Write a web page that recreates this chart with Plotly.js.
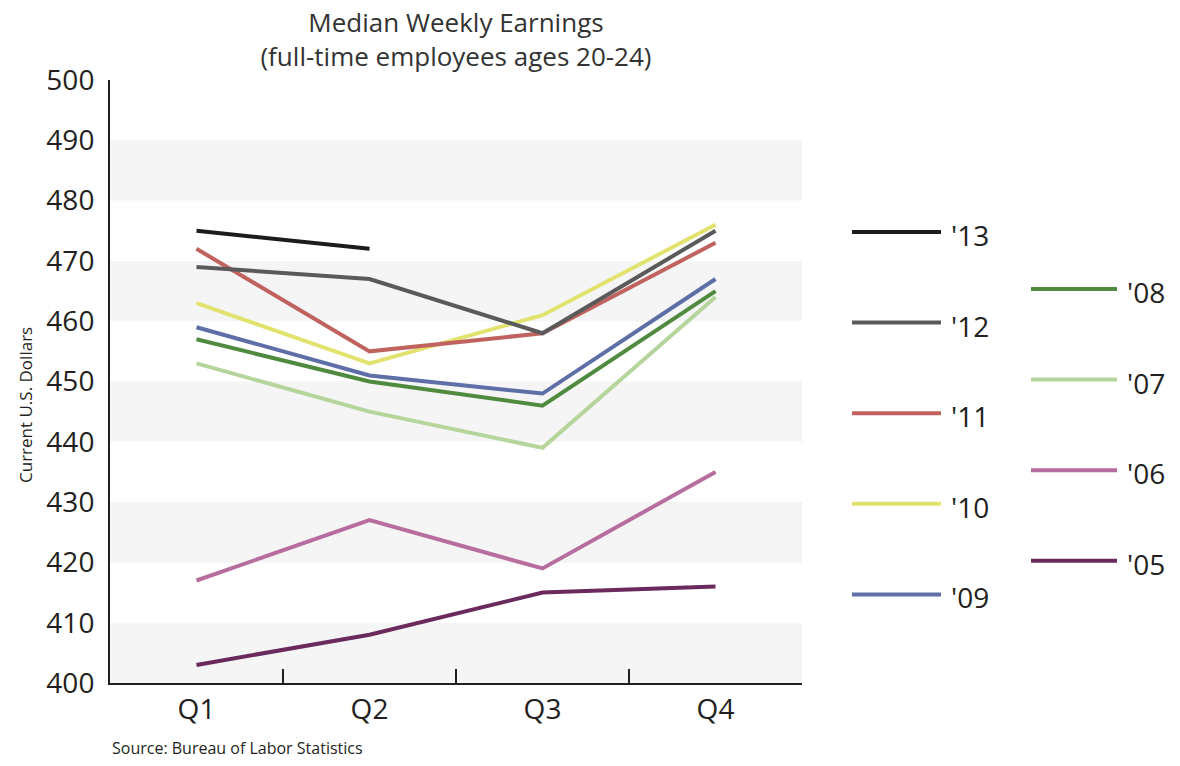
<!DOCTYPE html>
<html>
<head>
<meta charset="utf-8">
<script src="https://cdn.plot.ly/plotly-3.0.1.min.js"></script>
<style>
  html, body { margin: 0; padding: 0; background: #ffffff; }
  #chart { width: 1180px; height: 766px; }
</style>
</head>
<body>
<div id="chart"></div>
<script>
// ---- Data ----
const quarters = ['Q1', 'Q2', 'Q3', 'Q4'];
const years = ["'05", "'06", "'07", "'08", "'09", "'10", "'11", "'12", "'13"];
const y2005 = [403, 408, 415, 416];
const y2006 = [417, 427, 419, 435];
const y2007 = [453, 445, 439, 464];
const y2008 = [457, 450, 446, 465];
const y2009 = [459, 451, 448, 467];
const y2010 = [463, 453, 461, 476];
const y2011 = [472, 455, 458, 473];
const y2012 = [469, 467, 458, 475];
const y2013 = [475, 472];
const seriesValues = [y2005, y2006, y2007, y2008, y2009, y2010, y2011, y2012, y2013];
const yTicks = [400, 410, 420, 430, 440, 450, 460, 470, 480, 490, 500];
const bandStarts = [400, 420, 440, 460, 480];

// ---- Styles ----
const colors = ['#6b2a5c', '#b86d9f', '#b6d59c', '#4f8a3f', '#5e6ea7', '#e2e36f', '#c0635f', '#5a5a5a', '#1c1c1c'];
const FONT = 'Open Sans, Lato, sans-serif';
const TXT = '#231f20';

const W = 1180, H = 766;
const M = { l: 110, r: 378, t: 80, b: 83 };
const plotW = W - M.l - M.r, plotH = H - M.t - M.b;
const px2x = px => (px - M.l) / plotW;
const px2y = py => (H - M.b - py) / plotH;

const traces = seriesValues.map((vals, i) => ({
  type: 'scatter',
  mode: 'lines',
  name: years[i],
  x: quarters.slice(0, vals.length),
  y: vals,
  line: { color: colors[i], width: 4 },
  showlegend: false,
  hoverinfo: 'x+y+name'
}));

// background bands
const shapes = bandStarts.map(b => ({
  type: 'rect', xref: 'paper', yref: 'y', x0: 0, x1: 1, y0: b, y1: b + 10,
  fillcolor: '#f5f5f5', line: { width: 0 }, layer: 'below'
}));

// custom legend: two columns
const legendLeft = ["'13", "'12", "'11", "'10", "'09"];
const legendRight = ["'08", "'07", "'06", "'05"];
const annotations = [];
function addLegend(list, x0, x1, yStart, step) {
  list.forEach((name, k) => {
    const i = years.indexOf(name);
    const py = yStart + k * step;
    shapes.push({
      type: 'line', xref: 'paper', yref: 'paper',
      x0: px2x(x0), x1: px2x(x1), y0: px2y(py), y1: px2y(py),
      line: { color: colors[i], width: 4 }
    });
    annotations.push({
      xref: 'paper', yref: 'paper', x: px2x(x1 + 8), y: px2y(py + 3),
      xanchor: 'left', yanchor: 'middle', showarrow: false,
      text: name, font: { family: FONT, size: 28, color: TXT }
    });
  });
}
addLegend(legendLeft, 852, 941, 232, 90.6);
addLegend(legendRight, 1031, 1117, 289, 90.6);

// y-axis title (placed as in the reference, below the axis middle)
annotations.push({
  xref: 'paper', yref: 'paper', x: px2x(25), y: px2y(405),
  xanchor: 'center', yanchor: 'middle', showarrow: false, textangle: -90,
  text: 'Current U.S. Dollars',
  font: { family: FONT, size: 17, color: TXT }
});

annotations.push({
  xref: 'paper', yref: 'paper', x: 0, y: px2y(748),
  xanchor: 'left', yanchor: 'middle', showarrow: false,
  text: 'Source: Bureau of Labor Statistics',
  font: { family: FONT, size: 16, color: TXT }
});

const layout = {
  width: W, height: H,
  margin: M,
  paper_bgcolor: '#ffffff',
  plot_bgcolor: '#ffffff',
  showlegend: false,
  title: {
    text: 'Median Weekly Earnings<br>(full-time employees ages 20-24)',
    font: { family: FONT, size: 26, color: '#333333' },
    x: (M.l + plotW / 2) / W, xanchor: 'center', xref: 'container',
    y: 0.958, yanchor: 'top', yref: 'container'
  },
  xaxis: {
    type: 'category',
    categoryorder: 'array', categoryarray: quarters,
    range: [-0.5, 3.5],
    showline: true, linecolor: TXT, linewidth: 2,
    ticks: 'inside', tickson: 'boundaries', ticklen: 14, tickwidth: 2, tickcolor: TXT,
    showgrid: false, zeroline: false,
    tickfont: { family: FONT, size: 28, color: TXT },
    ticklabelstandoff: 0,
    fixedrange: true
  },
  yaxis: {
    range: [400, 500],
    tickvals: yTicks, ticktext: yTicks.map(String),
    showline: true, linecolor: TXT, linewidth: 2,
    ticks: '', showgrid: false, zeroline: false,
    tickfont: { family: FONT, size: 28, color: TXT },
    ticklabelstandoff: 8,
    fixedrange: true
  },
  shapes: shapes,
  annotations: annotations
};

Plotly.newPlot('chart', traces, layout, { displayModeBar: false, staticPlot: true });
</script>
</body>
</html>
